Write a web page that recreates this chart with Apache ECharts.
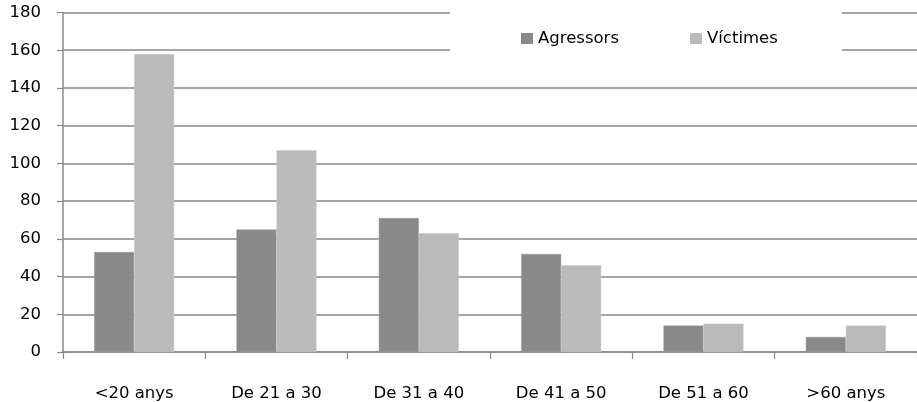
<!DOCTYPE html>
<html><head><meta charset="utf-8">
<script src="https://cdn.jsdelivr.net/npm/echarts@6/dist/echarts.min.js"></script>
<style>html,body{margin:0;padding:0;background:#fff}#c{width:917px;height:402px}</style>
</head><body><div id="c"></div>
<script>
const categories = ['<20 anys', 'De 21 a 30', 'De 31 a 40', 'De 41 a 50', 'De 51 a 60', '>60 anys'];
const agressors = [53, 65, 71, 52, 14, 8];
const victimes = [158, 107, 63, 46, 15, 14];
const yTicks = [0, 20, 40, 60, 80, 100, 120, 140, 160, 180];

const font = '"DejaVu Sans", sans-serif';
const chart = echarts.init(document.getElementById('c'), null, {renderer: 'canvas'});
chart.setOption({
  animation: false,
  textStyle: {fontFamily: font},
  grid: {left: 63, right: 0, top: 12.5, bottom: 49.3, containLabel: false},
  legend: {
    left: 450, top: 9,
    padding: [21, 64, 10, 71],
    backgroundColor: '#fff',
    itemWidth: 12, itemHeight: 11, itemGap: 71,
    icon: 'rect',
    itemStyle: {borderWidth: 0},
    textStyle: {fontSize: 16.5, color: '#000', fontFamily: font},
    data: ['Agressors', 'Víctimes']
  },
  xAxis: {
    type: 'category', data: categories,
    axisLine: {lineStyle: {color: '#888', width: 1.5}},
    axisTick: {show: true, length: 7, lineStyle: {color: '#888', width: 1.2}},
    axisLabel: {fontSize: 16.5, color: '#000', margin: 33, fontFamily: font}
  },
  yAxis: {
    type: 'value', min: yTicks[0], max: yTicks[yTicks.length - 1], interval: 20,
    axisLine: {show: true, lineStyle: {color: '#888', width: 1.5}},
    axisTick: {show: true, length: 6, lineStyle: {color: '#888', width: 1.2}},
    axisLabel: {fontSize: 16.5, color: '#000', margin: 22, padding: [6, 0, 0, 0], fontFamily: font},
    splitLine: {lineStyle: {color: '#888', width: 1.5}}
  },
  series: [
    {name: 'Agressors', type: 'bar', data: agressors, barWidth: 40, barGap: '0%',
     itemStyle: {color: '#898989', borderColor: '#9a9a9a', borderWidth: 0.5}},
    {name: 'Víctimes', type: 'bar', data: victimes, barWidth: 40,
     itemStyle: {color: '#bababa', borderColor: '#c8c8c8', borderWidth: 0.5}}
  ]
});
</script></body></html>
